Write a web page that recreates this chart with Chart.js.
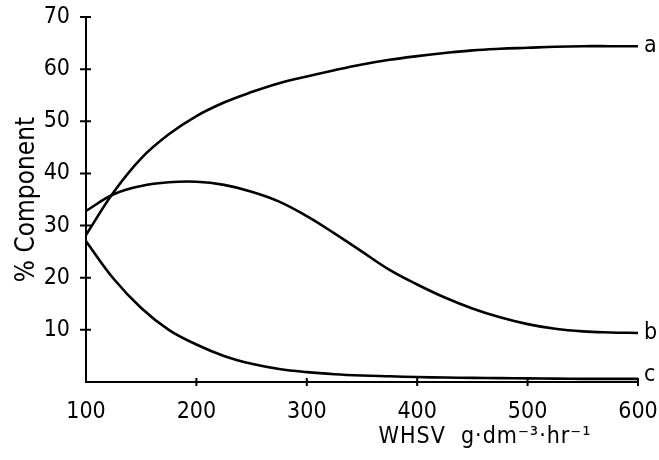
<!DOCTYPE html>
<html>
<head>
<meta charset="utf-8">
<script src="https://cdn.jsdelivr.net/npm/chart.js@4"></script>
<style>
  html, body { margin: 0; padding: 0; background: #ffffff; }
  #wrap { width: 659px; height: 460px; }
</style>
</head>
<body>
<div id="wrap"><canvas id="chart-whsv" width="659" height="460"></canvas></div>
<script>
// Data -------------------------------------
// --> values

const whsv = [100, 125, 150, 175, 200, 225, 250, 275, 300, 325, 350, 375, 400, 425, 450, 475, 500, 525, 550, 575, 600]
const comp_a = [28.2, 36.4, 42.9, 47.5, 51.0, 53.6, 55.6, 57.3, 58.6, 59.8, 60.9, 61.8, 62.5, 63.1, 63.6, 63.9, 64.1, 64.3, 64.4, 64.4, 64.4]
const comp_b = [32.8, 36.0, 37.6, 38.3, 38.4, 37.8, 36.5, 34.6, 31.8, 28.5, 25.0, 21.5, 18.7, 16.2, 14.1, 12.4, 11.1, 10.2, 9.7, 9.5, 9.4]
const comp_c = [27.0, 19.8, 14.2, 10.0, 7.2, 5.0, 3.5, 2.5, 1.9, 1.5, 1.25, 1.1, 0.95, 0.85, 0.8, 0.75, 0.7, 0.65, 0.6, 0.6, 0.6]
const curve_labels = ['a', 'b', 'c']

const x_ticks = [100, 200, 300, 400, 500, 600]
const y_ticks = [10, 20, 30, 40, 50, 60, 70]

const font_family = "'DejaVu Sans Condensed', 'Liberation Sans Narrow', 'DejaVu Sans', sans-serif"
const ink = '#000000'

// Helpers -------------------------------------

function to_points(ys) {
    return ys.map(function (y, i) { return { x: whsv[i], y: y } })
}

function make_dataset(label, ys) {
    return {
        label: label,
        data: to_points(ys),
        borderColor: ink,
        borderWidth: 2.6,
        pointRadius: 0,
        fill: false,
        tension: 0.4,
    }
}

// drop the extra room chart.js keeps for overhanging tick labels
function no_label_padding(scale) {
    scale.paddingTop = 0
    scale.paddingBottom = 0
    scale.paddingLeft = 0
    scale.paddingRight = 0
}

// Plugins -------------------------------------
// --> tick marks crossing the axes, curve end labels, x axis title

const cross_ticks = {
    id: 'cross_ticks',
    afterDraw: function (chart) {
        const ctx = chart.ctx
        const xs = chart.scales.x
        const ys = chart.scales.y
        const area = chart.chartArea
        ctx.save()
        ctx.strokeStyle = ink
        ctx.lineWidth = 2
        ctx.beginPath()
        y_ticks.forEach(function (v) {
            const py = ys.getPixelForValue(v)
            ctx.moveTo(area.left - 6, py)
            ctx.lineTo(area.left + 5, py)
        })
        x_ticks.forEach(function (v) {
            if (v === x_ticks[0]) return
            const px = xs.getPixelForValue(v)
            ctx.moveTo(px, area.bottom - 4)
            ctx.lineTo(px, area.bottom + 4)
        })
        ctx.stroke()
        ctx.restore()
    }
}

const end_labels = {
    id: 'end_labels',
    afterDatasetsDraw: function (chart) {
        const ctx = chart.ctx
        ctx.save()
        ctx.fillStyle = ink
        ctx.font = '23px ' + font_family
        ctx.textAlign = 'left'
        ctx.textBaseline = 'middle'
        chart.data.datasets.forEach(function (ds, i) {
            const pts = chart.getDatasetMeta(i).data
            const last = pts[pts.length - 1]
            const dy = ds.label === 'c' ? -4 : 0
            ctx.fillText(ds.label, last.x + 6, last.y + dy)
        })
        ctx.restore()
    }
}

const x_title = {
    id: 'x_title',
    afterDraw: function (chart) {
        const ctx = chart.ctx
        ctx.save()
        ctx.fillStyle = ink
        ctx.font = '23px ' + font_family
        ctx.letterSpacing = '1px'
        ctx.textAlign = 'center'
        ctx.textBaseline = 'middle'
        ctx.fillText('WHSV  g·dm⁻³·hr⁻¹', 485, 437)
        ctx.restore()
    }
}

// Config -------------------------------------

const data = {
    datasets: [
        make_dataset(curve_labels[0], comp_a),
        make_dataset(curve_labels[1], comp_b),
        make_dataset(curve_labels[2], comp_c),
    ]
}

const config = {
    type: 'line',
    data: data,
    plugins: [cross_ticks, end_labels, x_title],
    options: {
        responsive: false,
        animation: false,
        layout: {
            padding: { top: 17, right: 21, left: 12, bottom: 0 },
        },
        plugins: {
            legend: { display: false },
            tooltip: { enabled: false },
        },
        scales: {
            x: {
                type: 'linear',
                min: 100,
                max: 600,
                grid: { display: false, drawTicks: false },
                border: { display: true, color: ink, width: 2 },
                ticks: {
                    stepSize: 100,
                    color: ink,
                    padding: 16,
                    maxRotation: 0,
                    font: { family: font_family, size: 23 },
                },
                afterFit: function (scale) {
                    scale.height = 78
                    no_label_padding(scale)
                },
            },
            y: {
                type: 'linear',
                min: 0,
                max: 70,
                grid: { display: false, drawTicks: false },
                border: { display: true, color: ink, width: 2 },
                ticks: {
                    stepSize: 10,
                    color: ink,
                    padding: 16,
                    font: { family: font_family, size: 23 },
                    callback: function (v) { return v === 0 ? '' : v },
                },
                title: {
                    display: true,
                    text: '% Component',
                    color: ink,
                    padding: { top: 0, bottom: 0 },
                    font: { family: font_family, size: 26 },
                },
                afterFit: function (scale) {
                    scale.width = 74
                    no_label_padding(scale)
                },
            },
        },
    }
}

// Create chart
const context = document.getElementById('chart-whsv').getContext('2d')
const chart = new Chart(context, config)
</script>
</body>
</html>
